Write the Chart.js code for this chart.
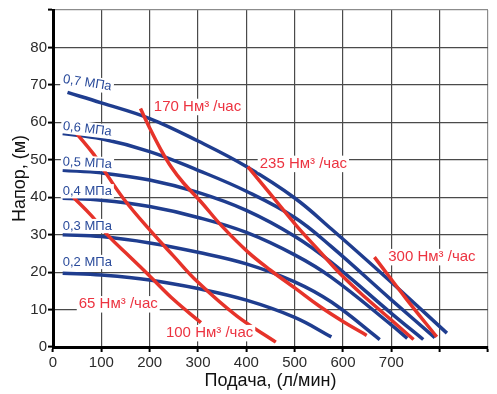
<!DOCTYPE html>
<html>
<head>
<meta charset="utf-8">
<script src="https://cdn.jsdelivr.net/npm/chart.js@4.4.1/dist/chart.umd.min.js"></script>
<style>
  html, body { margin: 0; padding: 0; background: #fff; }
  #wrap { width: 497px; height: 394px; }
</style>
</head>
<body>
<div id="wrap"><canvas id="pumpChart"></canvas></div>
<script>
// Axis ticks
const flowTicks = [0, 100, 200, 300, 400, 500, 600, 700, 800, 900];
const headTicks = [0, 10, 20, 30, 40, 50, 60, 70, 80, 90];

// Pump curves at air pressure (МПа): flow (л/мин) and head (м)
const pressureNames = ['0,7 МПа', '0,6 МПа', '0,5 МПа', '0,4 МПа', '0,3 МПа', '0,2 МПа'];
const flow07 = [30, 100, 200, 300, 400, 500, 576, 700, 815];
const head07 = [68, 65.2, 61, 55, 48.2, 39.8, 31.5, 17.3, 3.7];
const flow06 = [20, 100, 200, 300, 400, 500, 576, 700, 790];
const head06 = [57, 55.6, 52.2, 47.2, 41.6, 34.6, 26.8, 12.6, 2.5];
const flow05 = [20, 100, 200, 300, 400, 500, 576, 700, 766];
const head05 = [47.2, 46.5, 44.6, 41.3, 36.5, 29.6, 22.6, 9, 2];
const flow04 = [20, 100, 200, 300, 400, 500, 576, 700, 733];
const head04 = [39.7, 39.2, 37.5, 34.6, 30.6, 24.6, 18.6, 5.9, 2.3];
const flow03 = [20, 100, 200, 300, 400, 500, 576, 676];
const head03 = [30, 29.5, 27.8, 25.3, 22.2, 17.4, 12, 2];
const flow02 = [20, 100, 200, 300, 400, 500, 576];
const head02 = [19.7, 19.2, 17.9, 15.6, 12.5, 7.9, 2.7];

// Air consumption lines (Нм³/час)
const airNames = ['65 Нм³ /час', '100 Нм³ /час', '170 Нм³ /час', '235 Нм³ /час', '300 Нм³ /час'];
const flowAir65 = [42, 80, 115, 160, 202, 250, 306];
const headAir65 = [40, 35, 29.6, 24, 18.7, 12.6, 6.5];
const flowAir100 = [49, 84, 105, 146, 202, 250, 299, 380, 461];
const headAir100 = [57, 51.5, 47.3, 39.6, 31, 24.2, 17.4, 8.3, 1.3];
const flowAir170 = [181, 200, 222, 245, 270, 306, 350, 403, 450, 503, 550, 600, 649];
const headAir170 = [63.7, 58.5, 53, 48, 43.8, 38.8, 32.2, 25.4, 20.5, 15.5, 11, 6.8, 3.1];
const flowAir235 = [403, 450, 503, 550, 600, 650, 700, 746];
const headAir235 = [48.2, 40.8, 32.5, 25.8, 18.8, 12.8, 7.2, 2];
const flowAir300 = [665, 730, 794];
const headAir300 = [24, 13, 2.7];

// where the curve names sit (axis units) and how much they tilt
const pressureLabelSpots = [[71, 70.5, 9], [71, 58.2, 7], [71, 49.1, 3], [71, 41.6, 0], [71, 32.3, 0], [71, 22.7, 0]];
const airLabelSpots = [[135, 11.4], [324, 3.7], [299, 64.1], [518, 48.9], [784, 24]];

const BLUE = '#1f3d8f';
const RED = '#e6332a';
const FONT = 'Arial, "Liberation Sans", sans-serif';

const toPoints = (xs, ys) => xs.map((x, i) => ({ x: x, y: ys[i] }));

const pressureData = [
    toPoints(flow07, head07), toPoints(flow06, head06), toPoints(flow05, head05),
    toPoints(flow04, head04), toPoints(flow03, head03), toPoints(flow02, head02)
];
const airData = [
    toPoints(flowAir65, headAir65), toPoints(flowAir100, headAir100), toPoints(flowAir170, headAir170),
    toPoints(flowAir235, headAir235), toPoints(flowAir300, headAir300)
];

const datasets = [];
airData.forEach((pts, i) => datasets.push({
    label: airNames[i], data: pts, borderColor: RED, order: 0
}));
pressureData.forEach((pts, i) => datasets.push({
    label: pressureNames[i], data: pts, borderColor: BLUE, order: 1
}));

// Draws the curve names on small white boxes
const curveLabels = {
    id: 'curveLabels',
    afterDatasetsDraw(chart) {
        const { ctx, scales: { x, y } } = chart;
        const put = (text, sx, sy, angle, size, color) => {
            ctx.save();
            ctx.font = size + 'px ' + FONT;
            ctx.translate(x.getPixelForValue(sx), y.getPixelForValue(sy));
            ctx.rotate(angle * Math.PI / 180);
            const w = ctx.measureText(text).width;
            ctx.fillStyle = '#fff';
            ctx.fillRect(-w / 2 - 2, -size * 0.55, w + 4, size * 1.1);
            ctx.fillStyle = color;
            ctx.textAlign = 'center';
            ctx.textBaseline = 'middle';
            ctx.fillText(text, 0, 0);
            ctx.restore();
        };
        pressureLabelSpots.forEach((s, i) => put(pressureNames[i], s[0], s[1], s[2], 13, '#2a4b9b'));
        airLabelSpots.forEach((s, i) => put(airNames[i], s[0], s[1], 0, 15, '#ec3340'));
    }
};

const edgeColor = (ctx, last) => ctx.tick && ctx.tick.value === last ? '#8c8c8c' : '#4a4a4a';

new Chart(document.getElementById('pumpChart'), {
    type: 'line',
    data: { datasets: datasets },
    options: {
        responsive: true,
        maintainAspectRatio: false,
        animation: false,
        layout: { padding: { top: 10, right: 9 } },
        elements: {
            point: { radius: 0 },
            line: { borderWidth: 3.5, tension: 0.4, borderCapStyle: 'butt', fill: false }
        },
        scales: {
            x: {
                type: 'linear',
                min: 0,
                max: 900,
                afterBuildTicks: (s) => { s.ticks = flowTicks.map(v => ({ value: v })); },
                afterFit: (s) => { s.height = 47; },
                ticks: {
                    autoSkip: false,
                    maxRotation: 0,
                    padding: 2,
                    color: '#2b2b2b',
                    font: { family: FONT, size: 15 },
                    callback: (v) => (v <= 700 ? v : '')
                },
                grid: {
                    color: (ctx) => edgeColor(ctx, 900),
                    lineWidth: 1.2,
                    tickLength: 5,
                    tickColor: '#000',
                    tickWidth: 2
                },
                border: { color: '#000', width: 3 },
                title: {
                    display: true,
                    text: 'Подача, (л/мин)',
                    color: '#111',
                    font: { family: FONT, size: 18 },
                    padding: { top: 0, bottom: 2 }
                }
            },
            y: {
                min: 0,
                max: 90,
                afterBuildTicks: (s) => { s.ticks = headTicks.map(v => ({ value: v })); },
                afterFit: (s) => { s.width = 53; },
                ticks: {
                    padding: 1,
                    color: '#2b2b2b',
                    font: { family: FONT, size: 15 },
                    callback: (v) => (v <= 80 ? v : '')
                },
                grid: {
                    color: (ctx) => edgeColor(ctx, 90),
                    lineWidth: 1.2,
                    tickLength: 5,
                    tickColor: '#000',
                    tickWidth: 2
                },
                border: { color: '#000', width: 3 },
                title: {
                    display: true,
                    text: 'Напор, (м)',
                    color: '#111',
                    font: { family: FONT, size: 18 },
                    padding: { top: 9, bottom: 0 }
                }
            }
        },
        plugins: {
            legend: { display: false },
            tooltip: { enabled: false }
        }
    },
    plugins: [curveLabels]
});
</script>
</body>
</html>
